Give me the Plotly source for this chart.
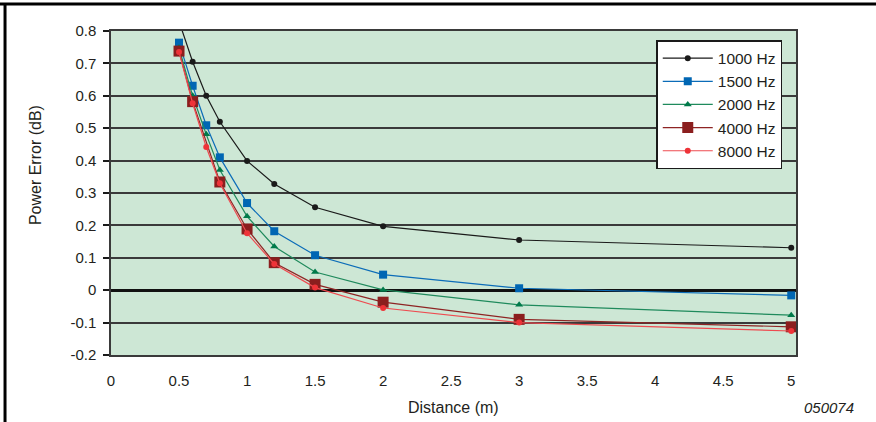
import plotly.graph_objects as go

distance = [0.5, 0.6, 0.7, 0.8, 1.0, 1.2, 1.5, 2.0, 3.0, 5.0]
distance_4000 = [0.5, 0.6, 0.8, 1.0, 1.2, 1.5, 2.0, 3.0, 5.0]

err_1000 = [0.83, 0.705, 0.600, 0.520, 0.399, 0.328, 0.256, 0.197, 0.155, 0.131]
err_1500 = [0.764, 0.631, 0.509, 0.410, 0.269, 0.182, 0.108, 0.048, 0.006, -0.016]
err_2000 = [0.748, 0.600, 0.481, 0.371, 0.228, 0.135, 0.056, 0.001, -0.045, -0.077]
err_4000 = [0.738, 0.582, 0.334, 0.189, 0.085, 0.018, -0.037, -0.090, -0.113]
err_8000 = [0.735, 0.577, 0.442, 0.330, 0.176, 0.081, 0.008, -0.055, -0.100, -0.126]

x_ticks = [0, 0.5, 1, 1.5, 2, 2.5, 3, 3.5, 4, 4.5, 5]
x_tick_labels = ["0", "0.5", "1", "1.5", "2", "2.5", "3", "3.5", "4", "4.5", "5"]
y_ticks = [-0.2, -0.1, 0, 0.1, 0.2, 0.3, 0.4, 0.5, 0.6, 0.7, 0.8]
y_tick_labels = ["-0.2", "-0.1", "0", "0.1", "0.2", "0.3", "0.4", "0.5", "0.6", "0.7", "0.8"]

FONT = "Arial, Liberation Sans, Helvetica, sans-serif"
TXT = "#231f20"

series = [
    ("1000 Hz", distance, err_1000, "#1a1a1a", "#1a1a1a", "circle", 6),
    ("1500 Hz", distance, err_1500, "#0b6cb8", "#0066b3", "square", 8),
    ("2000 Hz", distance, err_2000, "#1f8a5c", "#007a4a", "triangle-up", 7),
    ("4000 Hz", distance_4000, err_4000, "#8e2424", "#8b1e1e", "square", 11),
    ("8000 Hz", distance, err_8000, "#ee4b50", "#ee3338", "circle", 6),
]

fig = go.Figure()
for name, xs, ys, lc, mc, sym, sz in series:
    fig.add_trace(go.Scatter(
        x=xs, y=ys, name=name, mode="lines+markers",
        line=dict(color=lc, width=1.2),
        marker=dict(color=mc, symbol=sym, size=sz, line=dict(width=0)),
    ))

fig.update_layout(
    width=876, height=422,
    margin=dict(l=111, r=80, t=31, b=67),
    paper_bgcolor="white",
    plot_bgcolor="#cde7d5",
    font=dict(family=FONT, size=15, color=TXT),
    showlegend=True,
    legend=dict(
        x=0.796, y=0.972, xanchor="left", yanchor="top",
        bgcolor="white", bordercolor="#1a1a1a", borderwidth=1.5,
        font=dict(family=FONT, size=15.5, color=TXT),
        tracegroupgap=0, itemwidth=50,
    ),
    xaxis=dict(
        range=[0, 5.035], tickvals=x_ticks, ticktext=x_tick_labels,
        showgrid=False, zeroline=False,
        showline=True, mirror=True, linecolor="#3a3a3a", linewidth=1.5,
        ticks="", ticklabelstandoff=11,
        tickfont=dict(family=FONT, size=15, color=TXT),
    ),
    xaxis2=dict(
        range=[0, 5.035], overlaying="x", anchor="free", position=0.2,
        tickvals=x_ticks, showticklabels=False, ticks="outside",
        ticklen=5, tickwidth=1.5, tickcolor="#1a1a1a",
        showgrid=False, zeroline=False, showline=False,
    ),
    yaxis=dict(
        range=[-0.2, 0.8], tickvals=y_ticks, ticktext=y_tick_labels,
        showgrid=True, gridcolor="#3a3a3a", gridwidth=1.6,
        zeroline=True, zerolinecolor="#111111", zerolinewidth=2.6,
        showline=True, mirror=True, linecolor="#3a3a3a", linewidth=1.5,
        ticks="outside", ticklen=6, tickwidth=1.5, tickcolor="#1a1a1a",
        ticklabelstandoff=4,
        tickfont=dict(family=FONT, size=15, color=TXT),
    ),
    annotations=[
        dict(text="Distance (m)", xref="paper", yref="paper", x=0.5, y=-0.163,
             xanchor="center", yanchor="middle", showarrow=False,
             font=dict(family=FONT, size=16, color=TXT)),
        dict(text="Power Error (dB)", xref="paper", yref="paper", x=-0.111, y=0.586,
             xanchor="center", yanchor="middle", showarrow=False, textangle=-90,
             font=dict(family=FONT, size=16, color=TXT)),
        dict(text="<i>050074</i>", xref="paper", yref="paper", x=1.087, y=-0.163,
             xanchor="right", yanchor="middle", showarrow=False,
             font=dict(family=FONT, size=15, color=TXT)),
    ],
    shapes=[
        dict(type="line", xref="paper", yref="paper", x0=-0.165, x1=1.2,
             y0=1.0833, y1=1.0833, line=dict(color="black", width=3)),
        dict(type="line", xref="paper", yref="paper", x0=-0.1547, x1=-0.1547,
             y0=-0.3, y1=1.0833, line=dict(color="black", width=3)),
    ],
)

fig.write_html(
    "out.html",
    config={"displayModeBar": False},
    post_script="document.body.style.margin='0';document.body.style.overflow='hidden';",
)
